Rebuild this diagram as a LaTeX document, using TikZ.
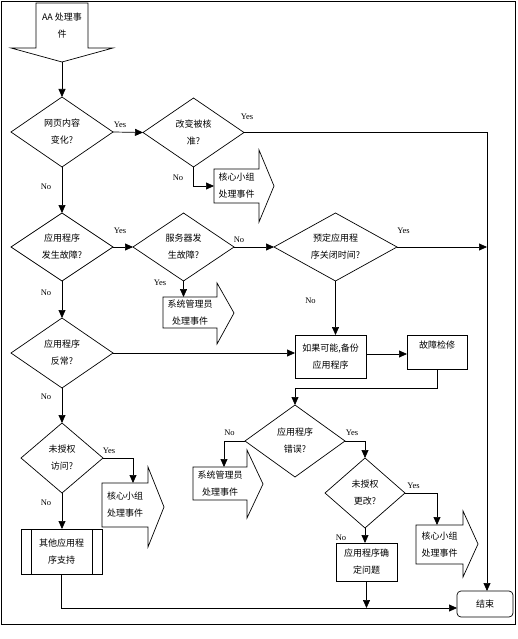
\documentclass[tikz,border=0pt]{standalone}
\usepackage{fontspec}
\setmainfont{Liberation Serif}
\newfontfamily\cjk{Noto Sans CJK SC}
\usetikzlibrary{shapes.geometric,arrows.meta}
\begin{document}
\begin{tikzpicture}[x=1pt,y=-1pt,line width=0.7pt,
  every node/.style={inner sep=0pt,outer sep=0pt},
  arr/.style={-{Triangle[length=8pt,width=7pt]}},
  dia/.style={diamond,draw},
  shaft/.style={rectangle},
  boxn/.style={rectangle,draw},
  txt/.style={font=\cjk\fontsize{9}{17}\selectfont,align=center},
  lab/.style={font=\fontsize{8.5}{10}\selectfont}]
\useasboundingbox (0,0) rectangle (518,639);
\draw (1,1) rectangle (515,624);

% start block arrow
\node[shaft,txt,minimum width=52pt,minimum height=45pt] (st) at (62,25.5) {AA 处理事\\件};
\draw (st.south west) -- (st.north west) -- (st.north east) -- (st.south east) -- (113,48) -- (62,62) -- (11,48) -- cycle;
\coordinate (sttip) at (62,62);

% diamonds
\node[dia,minimum width=102pt,minimum height=70pt] (d1) at (62,132) {};
\node[txt] at (d1) {网页内容\\变化?};
\node[dia,minimum width=101pt,minimum height=69pt] (d2) at (193.5,132.5) {};
\node[txt] at (d2) {改变被核\\准?};
\node[dia,minimum width=102pt,minimum height=68pt] (d3) at (62,247) {};
\node[txt] at (d3) {应用程序\\发生故障?};
\node[dia,minimum width=101pt,minimum height=68pt] (d4) at (183.5,247) {};
\node[txt] at (d4) {服务器发\\生故障?};
\node[dia,minimum width=123pt,minimum height=68pt] (d5) at (335.5,247) {};
\node[txt] at (d5) {预定应用程\\序关闭时间?};
\node[dia,minimum width=102pt,minimum height=70pt] (d6) at (62,353) {};
\node[txt] at (d6) {应用程序\\反常?};
\node[dia,minimum width=82pt,minimum height=70pt] (d9) at (62,458) {};
\node[txt] at (d9) {未授权\\访问?};
\node[dia,minimum width=100pt,minimum height=72pt] (d7) at (295,441) {};
\node[txt] at (d7) {应用程序\\错误?};
\node[dia,minimum width=80pt,minimum height=70pt] (d8) at (365,493) {};
\node[txt] at (d8) {未授权\\更改?};

% block arrows (right-pointing)
\node[shaft,txt,minimum width=45pt,minimum height=34pt] (k1) at (236.5,186) {核心小组\\处理事件};
\draw (k1.north east) -- (k1.north west) -- (k1.south west) -- (k1.south east) -- (259,222) -- (274,186) -- (259,150) -- cycle;
\node[shaft,txt,minimum width=54pt,minimum height=31pt] (s1) at (190,312.5) {系统管理员\\处理事件};
\draw (s1.north east) -- (s1.north west) -- (s1.south west) -- (s1.south east) -- (217,344) -- (234,313) -- (217,283) -- cycle;
\node[shaft,txt,minimum width=46pt,minimum height=44pt] (k2) at (125,505) {核心小组\\处理事件};
\draw (k2.north east) -- (k2.north west) -- (k2.south west) -- (k2.south east) -- (148,547) -- (164,507) -- (148,467) -- cycle;
\node[shaft,txt,minimum width=54pt,minimum height=33pt] (s2) at (220,483.5) {系统管理员\\处理事件};
\draw (s2.north east) -- (s2.north west) -- (s2.south west) -- (s2.south east) -- (247,518) -- (263,484) -- (247,450) -- cycle;
\node[shaft,txt,minimum width=47pt,minimum height=39pt] (k3) at (439.5,544.5) {核心小组\\处理事件};
\draw (k3.north east) -- (k3.north west) -- (k3.south west) -- (k3.south east) -- (463,577) -- (478,544) -- (463,511) -- cycle;

% boxes
\node[boxn,txt,minimum width=71pt,minimum height=43pt] (b1) at (330.5,356.5) {如果可能,备份\\应用程序};
\node[boxn,minimum width=60pt,minimum height=34pt] (b2) at (437,352) {};
\node[txt] at ([yshift=-10pt]b2.north) {故障检修};
\node[boxn,txt,minimum width=61pt,minimum height=38pt] (b3) at (366.5,562) {应用程序确\\定问题};
\node[boxn,txt,minimum width=81pt,minimum height=45pt] (p1) at (61.5,551.5) {其他应用程\\序支持};
\draw ([xshift=10pt]p1.north west) -- ([xshift=10pt]p1.south west);
\draw ([xshift=-10pt]p1.north east) -- ([xshift=-10pt]p1.south east);
\node[boxn,txt,rounded corners=4pt,minimum width=56pt,minimum height=26pt] (end) at (485,604) {结束};
\coordinate (rv) at ([xshift=2pt]end.north);
\coordinate (bl) at ([yshift=-4pt]end.west);

% connectors
\draw[arr] (sttip) -- (d1.north);
\draw[arr] (d1.east) -- (d2.west);
\draw[arr] (d2.east) -| (rv);
\draw[arr] (d2.south) |- (k1.west);
\draw[arr] (d1.south) -- (d3.north);
\draw[arr] (d3.east) -- (d4.west);
\draw[arr] (d4.east) -- (d5.west);
\draw[arr] (d5.east) -- (d5.east -| rv);
\draw[arr] (d4.south) -- (d4.south |- s1.north);
\draw[arr] (d5.south) -- (d5.south |- b1.north);
\draw[arr] (d3.south) -- (d6.north);
\draw[arr] (d6.east) -- (d6.east -| b1.west);
\draw[arr] ([yshift=2.5pt]b1.east) -- ([yshift=2.5pt]b1.east -| b2.west);
\draw[arr] (b2.south) -- ++(0,19) -| (d7.north);
\draw[arr] (d7.west) -| ([xshift=4pt]s2.north);
\draw[arr] (d7.east) -| (d8.north);
\draw[arr] (d8.east) -| ([xshift=-2.5pt]k3.north);
\draw[arr] (d8.south) -- (d8.south |- b3.north);
\draw[arr] (b3.south) -- (b3.south |- bl);
\draw[arr] (d6.south) -- (d9.north);
\draw[arr] (d9.east) -| ([xshift=8pt]k2.north);
\draw[arr] (d9.south) -- (d9.south |- p1.north);
\draw[arr] (p1.south) |- (bl);

% labels
\node[lab] at (120,125) {Yes};
\node[lab] at (247,117) {Yes};
\node[lab] at (178,178) {No};
\node[lab] at (46,187) {No};
\node[lab] at (120,231) {Yes};
\node[lab] at (239,240) {No};
\node[lab] at (403.5,231) {Yes};
\node[lab] at (160,283) {Yes};
\node[lab] at (46,293) {No};
\node[lab] at (310.5,301) {No};
\node[lab] at (46,397) {No};
\node[lab] at (109,451) {Yes};
\node[lab] at (46,503) {No};
\node[lab] at (229.5,433) {No};
\node[lab] at (352,433) {Yes};
\node[lab] at (413.5,486) {Yes};
\node[lab] at (341,538) {No};
\end{tikzpicture}
\end{document}
